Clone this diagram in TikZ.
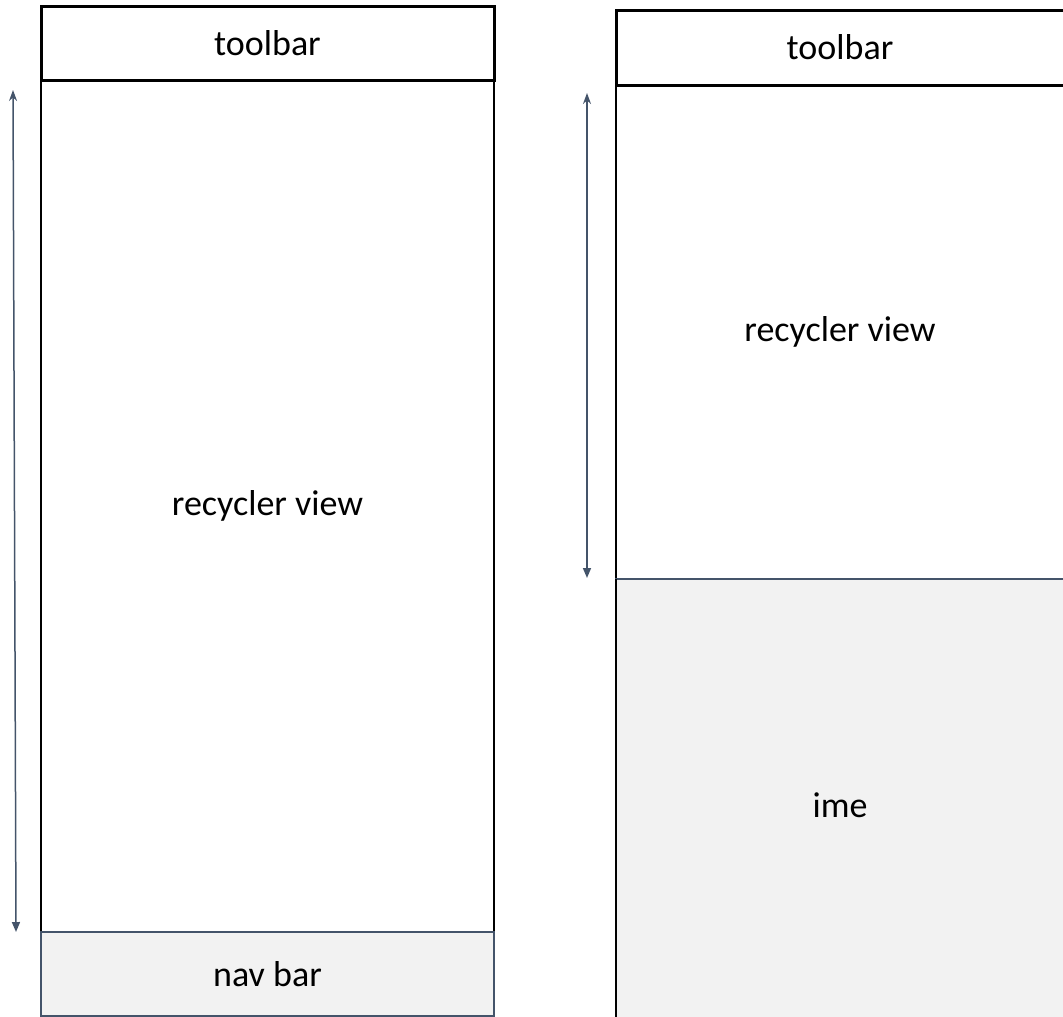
\documentclass[tikz,border=0pt]{standalone}
\usepackage{fontspec}
\setmainfont{Carlito}
\usetikzlibrary{arrows.meta}
\definecolor{slate}{HTML}{44546A}
\definecolor{panel}{HTML}{F2F2F2}
\begin{document}
\begin{tikzpicture}[x=1pt,y=-1pt,
  every node/.style={inner sep=0pt, outer sep=0pt, anchor=north west,
    font=\fontsize{36}{43}\selectfont},
  barbox/.style={draw=black, line width=3pt, fill=white},
  viewbox/.style={draw=black, line width=2.2pt, fill=white},
  softbox/.style={draw=slate, line width=1.8pt, fill=panel},
  span/.style={draw=slate, line width=1.5pt,
    {Stealth[length=11pt,width=8pt]}-{Triangle[length=10pt,width=8pt]}}]
\useasboundingbox (0,0) rectangle (1063,1017);
\clip (0,0) rectangle (1063,1017);

% left screen: toolbar, list, navigation bar
\node[viewbox, minimum width=453pt, minimum height=852pt] (lview) at (41,80) {recycler view};
\node[softbox, minimum width=453pt, minimum height=84pt] (lnav) at (41,932) {nav bar};
\node[barbox, minimum width=453pt, minimum height=74pt] (ltool) at (41,6) {toolbar};

% right screen: toolbar, shortened list, keyboard
\node[viewbox, minimum width=448pt, minimum height=494pt] (rview) at (616,85) {recycler view};
\node[softbox, minimum width=448pt, minimum height=452pt] (rime) at (616,579) {ime};
\node[barbox, minimum width=448pt, minimum height=75pt] (rtool) at (616,10) {toolbar};
\draw[black, line width=2.8pt] (rime.north west) -- (rime.south west);

% height of the scrolling area
\coordinate (ltop) at (13,90);
\coordinate (lbot) at (16,932);
\coordinate (rtop) at (587,93);
\coordinate (rbot) at (587,578);
\draw[span] (ltop) -- (lbot);
\draw[span] (rtop) -- (rbot);
\end{tikzpicture}
\end{document}
